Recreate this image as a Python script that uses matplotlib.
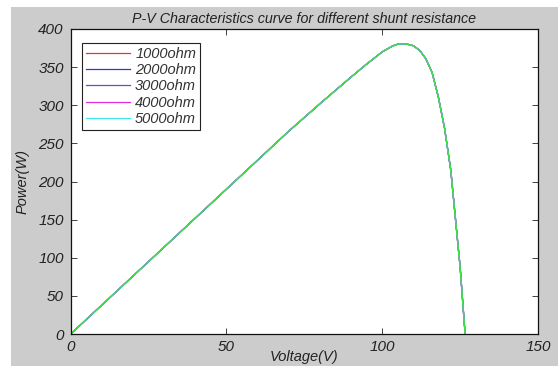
import matplotlib
matplotlib.use("Agg")
import matplotlib.pyplot as plt
from matplotlib.patches import Rectangle

# P-V curve readings (voltage in V, power in W)
voltage = [0, 10, 20, 30, 40, 50, 60, 70, 80, 90, 95, 100, 103, 104, 105, 106,
           107, 108, 109, 110, 112, 114, 116, 118, 120, 122, 124, 125, 126, 126.6]
power = [0, 38, 76, 114, 152, 190, 228, 266, 302, 337, 354, 370, 377, 378.8, 380, 380.5,
         380.6, 380, 379.2, 378, 372, 361, 343, 311, 270, 215, 130, 88, 33, 0]

labels = ["1000ohm", "2000ohm", "3000ohm", "4000ohm", "5000ohm"]
colors = ["#f03030", "#3535d0", "#5a50d0", "#e030e0", "#40e8e8"]
overlay_color = "#3ee03e"

x_ticks = [0, 50, 100, 150]
y_ticks = [0, 50, 100, 150, 200, 250, 300, 350, 400]

plt.rcParams["font.family"] = ["Liberation Sans", "DejaVu Sans"]
plt.rcParams["font.style"] = "italic"

fig = plt.figure(figsize=(5.58, 3.66), dpi=100, facecolor="white")
fig.patches.append(Rectangle((11 / 558, 0), 1, 1 - 7 / 366, transform=fig.transFigure,
                             facecolor="#cccccc", edgecolor="none", zorder=-10))

ax = fig.add_axes([70.7 / 558, 1 - 334 / 366, (538 - 70.7) / 558, (334 - 29) / 366])
ax.set_facecolor("white")

for lab, col in zip(labels, colors):
    ax.plot(voltage, power, color=col, lw=0.9, label=lab)
ax.plot(voltage, power, color=overlay_color, lw=0.9)

ax.set_xlim(0, 150)
ax.set_ylim(0, 400)
ax.set_xticks(x_ticks)
ax.set_yticks(y_ticks)
ax.tick_params(direction="in", length=4, width=0.6, top=True, right=True,
               labelsize=11, colors="#222222")
ax.tick_params(axis="x", pad=4)
ax.tick_params(axis="y", pad=5)
for s in ax.spines.values():
    s.set_linewidth(0.9)
    s.set_color("#111111")

ax.set_title("P-V Characteristics curve for different shunt resistance",
             fontsize=10.3, color="#222222", pad=4)
ax.set_xlabel("Voltage(V)", fontsize=10.5, color="#222222", labelpad=-2.5)
ax.set_ylabel("Power(W)", fontsize=10.5, color="#222222", labelpad=6)

leg = ax.legend(loc="upper left", bbox_to_anchor=(0.024, 0.955), fontsize=10.5,
                frameon=True, fancybox=False, framealpha=1, edgecolor="#222222",
                handlelength=3.0, handletextpad=0.35, borderpad=0.3, labelspacing=0.15,
                borderaxespad=0)
for t in leg.get_texts():
    t.set_color("#333333")
leg.get_frame().set_linewidth(0.8)

fig.savefig("out.png", dpi=100, facecolor=fig.get_facecolor())
